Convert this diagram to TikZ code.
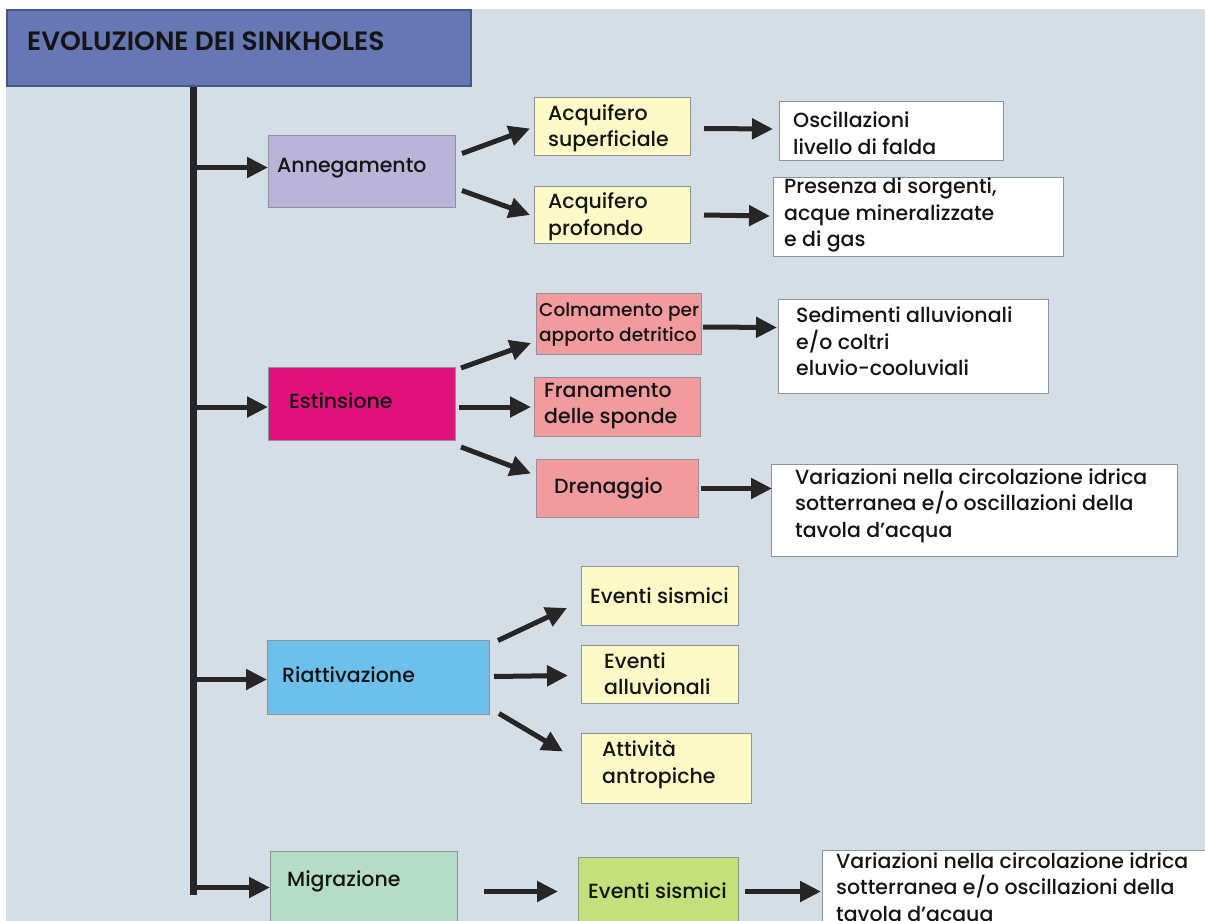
\documentclass[tikz,border=0pt]{standalone}
\usepackage{fontspec}
\setmainfont{Poppins}[UprightFont=* Medium, BoldFont=* SemiBold]
\usetikzlibrary{arrows.meta,calc}
\definecolor{bgcol}{HTML}{D6DEE5}
\definecolor{titlecol}{HTML}{6677B3}
\definecolor{titleline}{HTML}{44558A}
\definecolor{lav}{HTML}{BAB4D9}
\definecolor{yel}{HTML}{FDFAC7}
\definecolor{pinkc}{HTML}{F19B9F}
\definecolor{magc}{HTML}{E0117B}
\definecolor{skyc}{HTML}{6EC0EC}
\definecolor{mintc}{HTML}{B4DCC6}
\definecolor{limec}{HTML}{C3E07B}
\definecolor{boxline}{HTML}{8C939C}
\definecolor{arrcol}{HTML}{262626}
\definecolor{txtcol}{HTML}{141414}
\begin{document}
\begin{tikzpicture}[x=1pt,y=-1pt,
  bx/.style={draw=boxline, line width=1pt, anchor=north west, inner sep=0pt},
  tx/.style={anchor=west, align=left, inner sep=0pt, text=txtcol, font=\fontsize{20.5}{26.5}\selectfont},
  arr/.style={draw=arrcol, line width=5pt, -{Triangle[length=21pt,width=20pt]}},
  trunkline/.style={draw=arrcol, line width=7pt},
]
\path[use as bounding box, clip] (0,0) rectangle (1205,921);
\fill[white] (0,0) rectangle (1205,921);
\fill[bgcol] (6,9) rectangle (1205,921);

% title
\node[bx, fill=titlecol, draw=titleline, line width=2pt, minimum width=464, minimum height=76] (title) at (6,9) {};
\node[tx, font=\fontsize{26.5}{30}\selectfont\bfseries] (titleT) at (27,41) {EVOLUZIONE DEI SINKHOLES};

% level 1 boxes
\node[bx, fill=lav, minimum width=187, minimum height=72] (anne) at (268,135) {};
\node[tx] (anneT) at ($(anne.west)+(9,-3)$) {Annegamento};
\node[bx, fill=magc, minimum width=187, minimum height=73] (est) at (268,367) {};
\node[tx] (estT) at ($(est.west)+(21,-3)$) {Estinsione};
\node[bx, fill=skyc, minimum width=222, minimum height=74] (ria) at (267,640) {};
\node[tx] (riaT) at ($(ria.west)+(15,-3)$) {Riattivazione};
\node[bx, fill=mintc, minimum width=187, minimum height=80] (mig) at (270,851) {};
\node[tx] (migT) at ($(mig.west)+(17,-10)$) {Migrazione};

% Annegamento children
\node[bx, fill=yel, minimum width=156, minimum height=58] (acqs) at (534,97) {};
\node[tx] (acqsT) at ($(acqs.west)+(14,2)$) {Acquifero\\superficiale};
\node[bx, fill=yel, minimum width=156, minimum height=57] (acqp) at (534,186) {};
\node[tx] (acqpT) at ($(acqp.west)+(14,2)$) {Acquifero\\profondo};
\node[bx, fill=white, minimum width=224, minimum height=59] (osc) at (779,101) {};
\node[tx] (oscT) at ($(osc.west)+(14,2)$) {Oscillazioni\\livello di falda};
\node[bx, fill=white, minimum width=290, minimum height=79] (pres) at (773,177) {};
\node[tx] (presT) at ($(pres.west)+(11,-2)$) {Presenza di sorgenti,\\acque mineralizzate\\e di gas};

% Estinsione children
\node[bx, fill=pinkc, minimum width=165, minimum height=61] (colm) at (536,293) {};
\node[tx, font=\fontsize{18.5}{25}\selectfont] (colmT) at ($(colm.west)+(3,1)$) {Colmamento per\\apporto detritico};
\node[bx, fill=pinkc, minimum width=166, minimum height=59] (fran) at (534,377) {};
\node[tx] (franT) at ($(fran.west)+(10,-1)$) {Franamento\\delle sponde};
\node[bx, fill=pinkc, minimum width=162, minimum height=58] (dren) at (536,459) {};
\node[tx] (drenT) at ($(dren.west)+(18,0)$) {Drenaggio};
\node[bx, fill=white, minimum width=270, minimum height=94] (sed) at (778,299) {};
\node[tx] (sedT) at ($(sed.west)+(18,-5)$) {Sedimenti alluvionali\\e/o coltri\\eluvio-cooluviali};
\node[bx, fill=white, minimum width=406, minimum height=92] (var) at (771,464) {};
\node[tx] (varT) at ($(var.west)+(24,-5)$) {Variazioni nella circolazione idrica\\sotterranea e/o oscillazioni della\\tavola d’acqua};

% Riattivazione children
\node[bx, fill=yel, minimum width=157, minimum height=59] (es) at (581,566) {};
\node[tx] (esT) at ($(es.west)+(9,0)$) {Eventi sismici};
\node[bx, fill=yel, minimum width=157, minimum height=58] (ea) at (581,645) {};
\node[tx] (eaT) at ($(ea.west)+(23,-1)$) {Eventi\\alluvionali};
\node[bx, fill=yel, minimum width=170, minimum height=70] (aa) at (581,733) {};
\node[tx] (aaT) at ($(aa.west)+(21,-4)$) {Attività\\antropiche};

% Migrazione children
\node[bx, fill=limec, minimum width=160, minimum height=70] (esm) at (578,857) {};
\node[tx] (esmT) at ($(esm.west)+(10,-2)$) {Eventi sismici};
\node[bx, fill=white, minimum width=420, minimum height=90] (varm) at (822,850) {};
\node[tx] (varmT) at ($(varm.west)+(14,-6)$) {Variazioni nella circolazione idrica\\sotterranea e/o oscillazioni della\\tavola d’acqua};

% trunk
\coordinate (trunktop) at ($(title.south west)+(187,0)$);
\coordinate (trunkbot) at (193,895);
\draw[trunkline] (trunktop) -- (trunkbot);
\draw[arr] ($(trunktop |- anne.west)+(0,-4)$) -- ($(anne.west)+(0,-4)$);
\draw[arr] ($(trunktop |- est.west)+(0,3)$) -- ($(est.west)+(0,3)$);
\draw[arr] ($(trunktop |- ria.west)+(0,2)$) -- ($(ria.west)+(0,2)$);
\draw[arr] ($(trunktop |- mig.west)+(0,-4)$) -- ($(mig.west)+(0,-4)$);

% Annegamento arrows
\draw[arr] ($(anne.east)+(6,-18)$) -- ($(acqs.west)+(-4,2)$);
\draw[arr] ($(anne.east)+(6,19)$) -- ($(acqp.west)+(-4,0)$);
\draw[arr] ($(acqs.east)+(13,2)$) -- ($(osc.west)+(-6,-2)$);
\draw[arr] ($(acqp.east)+(13,0)$) -- ($(pres.west)+(-3,-1)$);

% Estinsione arrows
\draw[arr] ($(est.east)+(5,-36)$) -- ($(colm.west)+(-5,19)$);
\draw[arr] ($(est.east)+(3,3)$) -- ($(fran.west)+(-3,0)$);
\draw[arr] ($(est.east)+(5,43)$) -- ($(dren.west)+(-5,-15)$);
\draw[arr] ($(colm.east)+(1,3)$) -- ($(sed.west)+(-1,-19)$);
\draw[arr] ($(dren.east)+(2,0)$) -- ($(var.west)+(1,-22)$);

% Riattivazione arrows
\draw[arr] ($(ria.east)+(8,-37)$) -- ($(es.west)+(-14,12)$);
\draw[arr] ($(ria.east)+(4,-1)$) -- ($(ea.west)+(-13,1)$);
\draw[arr] ($(ria.east)+(9,36)$) -- ($(aa.west)+(-18,-17)$);

% Migrazione arrows
\draw[arr] ($(mig.east)+(26,0)$) -- ($(esm.west)+(-20,-1)$);
\draw[arr] ($(esm.east)+(6,-1)$) -- ($(varm.west)+(-1,-4)$);
\end{tikzpicture}
\end{document}
